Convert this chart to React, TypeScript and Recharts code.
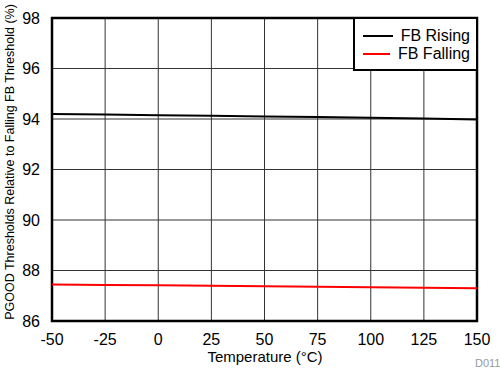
import React from 'react';
import { LineChart, Line, CartesianGrid, XAxis, YAxis, ReferenceArea } from 'recharts';

const temps = [-50, -25, 0, 25, 50, 75, 100, 125, 150];
const fbRising = [94.2, 94.18, 94.15, 94.13, 94.1, 94.08, 94.05, 94.02, 93.98];
const fbFalling = [87.45, 87.43, 87.42, 87.4, 87.38, 87.36, 87.34, 87.32, 87.3];
const xTicks = [-50, -25, 0, 25, 50, 75, 100, 125, 150];
const yTicks = [86, 88, 90, 92, 94, 96, 98];
const seriesNames = ['FB Rising', 'FB Falling'];
const seriesColors = ['#000000', '#ff0000'];

const font = 'Arial, "Liberation Sans", sans-serif';

function YLabel() {
	return (
		<text x={14} y={162} transform="rotate(-90 14 162)" textAnchor="middle" fill="#000" fontSize={12.5} fontFamily={font}>
			PGOOD Thresholds Relative to Falling FB Threshold (%)
		</text>
	);
}

function XLabel() {
	return (
		<text x={265} y={362} textAnchor="middle" fill="#000" fontSize={15} fontFamily={font}>
			Temperature (°C)
		</text>
	);
}

export default function App() {
	const data = temps.map((t, i) => ({ t, rising: fbRising[i], falling: fbFalling[i] }));

	return (
		<div style={{ position: 'absolute', left: 0, top: 0, width: 500, height: 370, background: '#fff' }}>
			<LineChart width={500} height={370} data={data} margin={{ top: 18, right: 23, left: 12, bottom: 19 }}>
				<CartesianGrid stroke="#333" strokeWidth={1} />
				<XAxis dataKey="t" type="number" domain={[-50, 150]} ticks={xTicks} height={30}
					axisLine={false} tickLine={false} tickMargin={7}
					tick={{ fill: '#000', fontSize: 16, fontFamily: font }}
					label={<XLabel />} />
				<YAxis type="number" domain={[86, 98]} ticks={yTicks} width={40}
					axisLine={false} tickLine={false} tickMargin={6}
					tick={{ fill: '#000', fontSize: 16, fontFamily: font }}
					label={<YLabel />} />
				<ReferenceArea x1={-50} x2={150} y1={86} y2={98} fill="none" stroke="#000" strokeWidth={2.5} ifOverflow="visible" />
				<Line dataKey="rising" stroke={seriesColors[0]} strokeWidth={2} dot={false} isAnimationActive={false} />
				<Line dataKey="falling" stroke={seriesColors[1]} strokeWidth={2} dot={false} isAnimationActive={false} />
			</LineChart>
			<div style={{ position: 'absolute', left: 353, top: 17, width: 125, border: '2px solid #000', background: '#fff', padding: '8px 6px 6px 8px', fontFamily: font, fontSize: 16, lineHeight: '18px', boxSizing: 'border-box', whiteSpace: 'nowrap' }}>
				{seriesNames.map((n, i) => (
					<div key={n} style={{ display: 'flex', alignItems: 'center' }}>
						<span style={{ display: 'inline-block', width: 30, height: 2, background: seriesColors[i], marginRight: 8 }} />
						<span>{n}</span>
					</div>
				))}
			</div>
			<div style={{ position: 'absolute', left: 475, top: 357, fontFamily: font, fontSize: 11, color: '#999' }}>D011</div>
		</div>
	);
}
